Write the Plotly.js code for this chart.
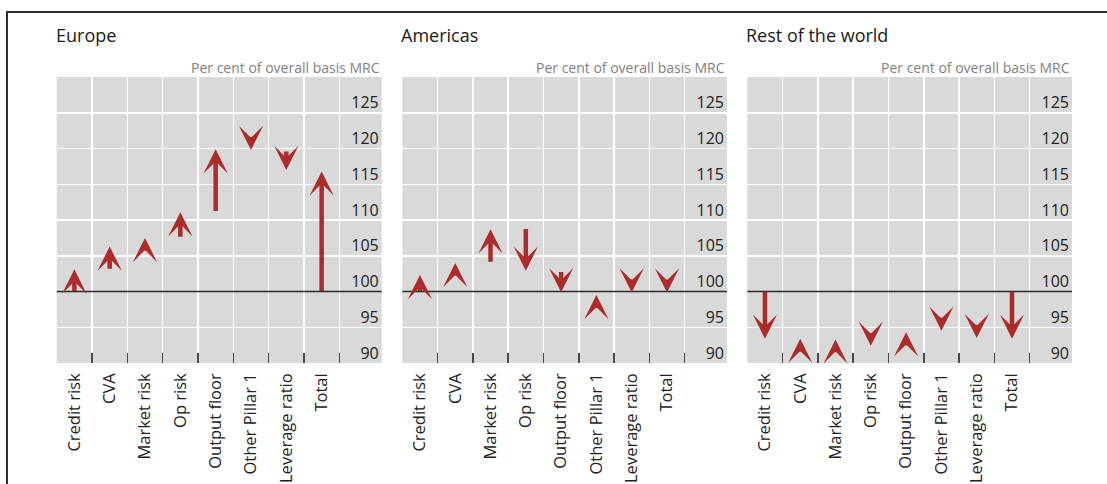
<!DOCTYPE html>
<html>
<head>
<meta charset="utf-8">
<script src="https://cdn.plot.ly/plotly-3.0.1.min.js"></script>
<style>
  html, body { margin: 0; padding: 0; background: #ffffff; }
  #chart { width: 1107px; height: 484px; }
</style>
</head>
<body>
<div id="chart"></div>
<script>
// ---- Data ----
const categories = ['Credit risk', 'CVA', 'Market risk', 'Op risk', 'Output floor', 'Other Pillar 1', 'Leverage ratio', 'Total'];
const regionNames = ['Europe', 'Americas', 'Rest of the world'];
const unitLabel = 'Per cent of overall basis MRC';
const yTickValues = [90, 95, 100, 105, 110, 115, 120, 125];
const baseline = 100;

// arrow start ("from") and end ("to") levels, per cent of overall basis MRC
const europeFrom   = [100, 103.1, 106.3, 107.6, 111.2, 119.9, 119.65, 100];
const europeTo     = [103.1, 106.3, 107.5, 111.1, 119.9, 119.8, 117.0, 116.8];
const americasFrom = [100, 102.3, 104.1, 108.8, 102.8, 98.5, 100.6, 100];
const americasTo   = [102.3, 104.0, 108.7, 102.9, 99.9, 99.5, 99.85, 99.85];
const restFrom     = [100, 93.0, 93.0, 93.3, 92.4, 95.3, 94.5, 100];
const restTo       = [93.4, 93.4, 93.3, 92.4, 94.3, 94.5, 93.5, 93.4];

const fromSeries = [europeFrom, americasFrom, restFrom];
const toSeries = [europeTo, americasTo, restTo];

// ---- Layout geometry ----
const W = 1107, H = 484;
const panelX = [[56.7, 381.7], [402.3, 727], [747.3, 1072]];
const plotTop = 77, plotBottom = 363;
const yDomain = [1 - plotBottom / H, 1 - plotTop / H];
const yRange = [90, 130];
const arrowColor = '#ac2b2b';
const minArrowUnits = 1.4;   // shortest drawable arrow; stays hidden under the head

const traces = [];
const annotations = [];
const shapes = [];
const layout = {
  width: W, height: H,
  margin: {l: 0, r: 0, t: 0, b: 0},
  paper_bgcolor: '#ffffff',
  plot_bgcolor: '#d9d9d9',
  showlegend: false,
  font: {family: 'Open Sans, Noto Sans, sans-serif', color: '#222'},
  hovermode: false
};

regionNames.forEach((name, p) => {
  const sfx = p === 0 ? '' : String(p + 1);
  const xa = 'x' + sfx, ya = 'y' + sfx;
  layout['xaxis' + sfx] = {
    domain: [panelX[p][0] / W, panelX[p][1] / W],
    anchor: ya,
    type: 'category',
    categoryorder: 'array',
    categoryarray: categories,
    range: [-0.5, categories.length + 0.7],
    tickson: 'boundaries',
    ticks: 'inside',
    ticklen: 10,
    tickwidth: 1.5,
    tickcolor: '#4a4a4a',
    showgrid: true,
    gridcolor: '#ffffff',
    gridwidth: 1.5,
    showline: false,
    zeroline: false,
    tickangle: -90,
    ticklabelstandoff: 6,
    tickfont: {size: 16.5, color: '#222', family: 'Open Sans, sans-serif'},
    fixedrange: true
  };
  layout['yaxis' + sfx] = {
    domain: yDomain,
    anchor: 'free',
    position: panelX[p][1] / W,
    side: 'left',
    range: yRange,
    tickmode: 'array',
    tickvals: yTickValues,
    ticktext: yTickValues.map(String),
    ticklabelposition: 'outside',
    ticklabelshift: -10,
    ticklabelstandoff: 3,
    ticks: '',
    showgrid: true,
    gridcolor: '#ffffff',
    gridwidth: 1.5,
    zeroline: false,
    showline: false,
    tickfont: {size: 16, color: '#222', family: 'Open Sans, sans-serif'},
    fixedrange: true
  };

  // invisible trace binding categories to the axis
  traces.push({
    type: 'scatter', mode: 'markers',
    x: categories, y: toSeries[p],
    xaxis: xa, yaxis: ya,
    marker: {opacity: 0, size: 1},
    hoverinfo: 'skip'
  });

  // baseline at 100
  shapes.push({
    type: 'line', xref: xa + ' domain', x0: 0, x1: 1,
    yref: ya, y0: baseline, y1: baseline,
    line: {color: '#2a2a2a', width: 1.5}, layer: 'above'
  });

  // arrows
  categories.forEach((c, i) => {
    const f = fromSeries[p][i], t = toSeries[p][i];
    const dir = t >= f ? 1 : -1;
    const tail = Math.abs(t - f) < minArrowUnits ? t - dir * minArrowUnits : f;
    annotations.push({
      xref: xa, yref: ya, axref: xa, ayref: ya,
      x: i, y: t, ax: i, ay: tail,
      text: '', showarrow: true,
      arrowhead: 3, arrowsize: 0.9, arrowwidth: 4.5,
      arrowcolor: arrowColor, standoff: 0, startstandoff: 0,
      borderpad: 0, font: {size: 1}
    });
  });

  // panel title
  annotations.push({
    xref: xa + ' domain', yref: 'paper', x: 0, y: 1 - 35 / H,
    xanchor: 'left', yanchor: 'middle', showarrow: false, xshift: -3,
    text: name, font: {size: 18, color: '#1a1a1a'}
  });
  // unit label
  annotations.push({
    xref: xa + ' domain', yref: 'paper', x: 1, y: 1 - 67 / H,
    xanchor: 'right', yanchor: 'middle', showarrow: false,
    text: unitLabel, font: {size: 14, color: '#7f7f7f'}
  });
});

// outer frame (top and left edges)
shapes.push({
  type: 'path', xref: 'paper', yref: 'paper',
  path: 'M ' + (7 / W) + ' 0 L ' + (7 / W) + ' ' + (1 - 12 / H) + ' L 1 ' + (1 - 12 / H),
  line: {color: '#2f2f2f', width: 2}
});

layout.annotations = annotations;
layout.shapes = shapes;

Plotly.newPlot('chart', traces, layout, {staticPlot: true, displayModeBar: false});
</script>
</body>
</html>
